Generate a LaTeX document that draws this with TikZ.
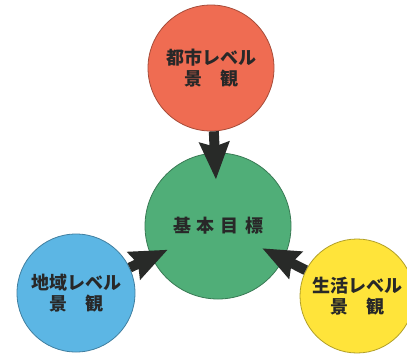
\documentclass[tikz,border=0pt]{standalone}
\usepackage{fontspec}
\newfontfamily\jp{Noto Sans CJK JP}
\usetikzlibrary{arrows.meta}
\definecolor{cred}{RGB}{239,108,82}
\definecolor{cgreen}{RGB}{80,174,120}
\definecolor{cblue}{RGB}{92,182,228}
\definecolor{cyellow}{RGB}{255,228,58}
\definecolor{txt}{RGB}{40,40,40}
\definecolor{arrowc}{RGB}{40,42,40}
\begin{document}
\begin{tikzpicture}[x=1pt,y=-1pt,
  ball/.style={circle, draw=#1!70!black, fill=#1, line width=0.8pt, inner sep=0pt,
    font=\jp\bfseries\fontsize{18}{21}\selectfont, text=txt, align=center},
  arr/.style={draw=arrowc, line width=10pt, -{Stealth[length=37pt,width=29pt,inset=4pt]}}]
\useasboundingbox (0,0) rectangle (407,354);
\fill[white] (0,0) rectangle (407,354);
\node[ball=cred, minimum size=126pt] (red) at (211,68) {都市レベル\\景　観};
\node[ball=cgreen, minimum size=146pt] (green) at (218,226) {基\hspace{6pt}本\hspace{6pt}目\hspace{6pt}標};
\node[ball=cblue, minimum size=118pt] (blue) at (76,293) {地域レベル\\景　観};
\node[ball=cyellow, minimum size=114pt] (yellow) at (357,296) {生活レベル\\景　観};
\draw[arr, shorten >=-27pt] (red) -- (green);
\draw[arr, shorten >=-18pt] (blue) -- (green);
\draw[arr, shorten >=-24pt] (yellow) -- (green);
\end{tikzpicture}
\end{document}
